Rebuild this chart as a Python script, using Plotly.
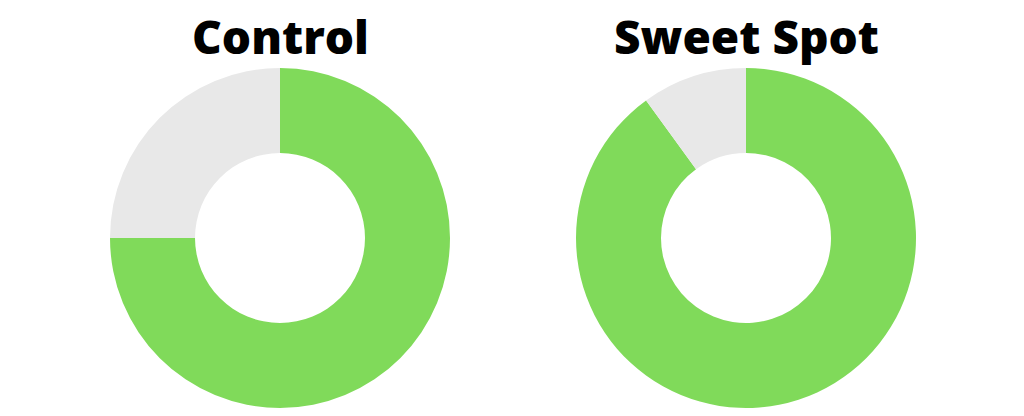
import plotly.graph_objects as go

# chart data
labels = ["Converted", "Not converted"]
control_values = [75, 25]
sweet_spot_values = [90, 10]
titles = ["Control", "Sweet Spot"]

GREEN = "#80DA5A"
GREY = "#E8E8E8"

W, H = 1024, 416


def px_domain(x0, x1, y0, y1):
    """Convert pixel box (top-left origin) to paper domain"""
    return dict(x=[x0 / W, x1 / W], y=[(H - y1) / H, (H - y0) / H])


fig = go.Figure()

for values, box in [
    (control_values, (110, 450, 68, 408)),
    (sweet_spot_values, (576, 916, 68, 408)),
]:
    fig.add_trace(
        go.Pie(
            labels=labels,
            values=values,
            hole=0.5,
            sort=False,
            direction="clockwise",
            rotation=0,
            textinfo="none",
            hoverinfo="label+percent",
            marker=dict(colors=[GREEN, GREY], line=dict(width=0)),
            domain=px_domain(*box),
        )
    )

for title, xc in zip(titles, [280, 746]):
    fig.add_annotation(
        text=title,
        x=xc / W,
        y=(H - 36) / H,
        xref="paper",
        yref="paper",
        xanchor="center",
        yanchor="middle",
        showarrow=False,
        font=dict(family="Open Sans", size=46, color="black", weight=800),
    )

fig.update_layout(
    width=W,
    height=H,
    showlegend=False,
    margin=dict(l=0, r=0, t=0, b=0),
    paper_bgcolor="white",
    plot_bgcolor="white",
)

# drop the browser's default body margin so the figure sits at the page corner
fig.write_html(
    "out.html",
    config={"displayModeBar": False},
    post_script="document.body.style.margin = '0';",
)
